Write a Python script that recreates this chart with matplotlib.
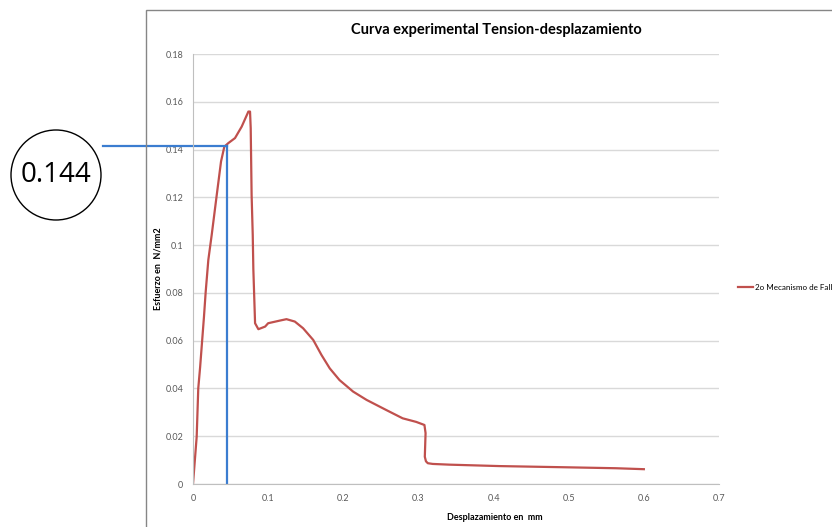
import matplotlib
matplotlib.use("Agg")
import matplotlib.pyplot as plt
from matplotlib.patches import Circle, Rectangle

# Curva (desplazamiento en mm, esfuerzo en N/mm2)
desplazamiento = [
    0.0, 0.0049, 0.007, 0.0095, 0.0146, 0.0169, 0.0204, 0.0249, 0.0316, 0.0373,
    0.0417, 0.047, 0.0559, 0.0648, 0.0737, 0.0759, 0.0768, 0.078, 0.0795, 0.0803,
    0.0826, 0.087, 0.096, 0.100, 0.1155, 0.1244, 0.1355, 0.1465, 0.160, 0.171,
    0.182, 0.195, 0.213, 0.231, 0.257, 0.279, 0.297, 0.308, 0.3095, 0.3085,
    0.310, 0.3125, 0.319, 0.341, 0.4077, 0.496, 0.5627, 0.600,
]
esfuerzo = [
    0.0, 0.0198, 0.040, 0.049, 0.070, 0.0805, 0.0938, 0.1043, 0.121, 0.135,
    0.1412, 0.1427, 0.1448, 0.1496, 0.1559, 0.1559, 0.149, 0.121, 0.1043, 0.090,
    0.0673, 0.0648, 0.0659, 0.0673, 0.0684, 0.069, 0.068, 0.0652, 0.0603, 0.054,
    0.0484, 0.0435, 0.0387, 0.0352, 0.031, 0.0275, 0.026, 0.0247, 0.0213, 0.0114,
    0.0095, 0.0087, 0.0084, 0.0081, 0.0075, 0.0070, 0.0066, 0.0062,
]
serie = "2o Mecanismo de Fall"

# marca de lectura
x_marca = 0.0449
y_marca = 0.1413
x_inicio_marca = -0.12
texto_marca = "0.144"

x_ticks = [0, 0.1, 0.2, 0.3, 0.4, 0.5, 0.6, 0.7]
x_ticklabels = ["0", "0.1", "0.2", "0.3", "0.4", "0.5", "0.6", "0.7"]
y_ticks = [0, 0.02, 0.04, 0.06, 0.08, 0.1, 0.12, 0.14, 0.16, 0.18]
y_ticklabels = ["0", "0.02", "0.04", "0.06", "0.08", "0.1", "0.12", "0.14", "0.16", "0.18"]

plt.rcParams["font.family"] = ["Lato", "DejaVu Sans"]

W, H = 832, 527
fig = plt.figure(figsize=(W / 100, H / 100), dpi=100)
ax = fig.add_axes([193 / W, 1 - 484 / H, (719 - 193) / W, (484 - 54) / H])

# borde del area del grafico
fig.patches.append(Rectangle((146 / W, -0.2), 1.0, 1 - 10 / H + 0.2,
                             transform=fig.transFigure, fill=False,
                             edgecolor="#868686", linewidth=1.0))

ax.plot(desplazamiento, esfuerzo, color="#C0504D", linewidth=1.6, label=serie,
        solid_joinstyle="round")
ax.plot([x_marca, x_marca], [0, y_marca], color="#3B7DD0", linewidth=1.6)
ax.plot([x_inicio_marca, x_marca], [y_marca, y_marca], color="#3B7DD0",
        linewidth=1.6, clip_on=False)

ax.set_xlim(0, 0.7)
ax.set_ylim(0, 0.18)
ax.set_xticks(x_ticks)
ax.set_xticklabels(x_ticklabels)
ax.set_yticks(y_ticks)
ax.set_yticklabels(y_ticklabels)
ax.tick_params(length=0, labelsize=6.5, labelcolor="#595959", pad=7)
ax.yaxis.grid(True, color="#D9D9D9", linewidth=1.0)
ax.set_axisbelow(True)
for s in ["top", "right"]:
    ax.spines[s].set_visible(False)
for s in ["left", "bottom"]:
    ax.spines[s].set_color("#BFBFBF")

ax.set_ylabel("Esfuerzo en  N/mm2", fontsize=6.5, fontweight="bold", labelpad=2)
fig.text(495 / W, 1 - 518 / H, "Desplazamiento en  mm", fontsize=6.5,
         fontweight="bold", ha="center", va="center")
fig.text(496 / W, 1 - 30 / H, "Curva experimental Tension-desplazamiento",
         fontsize=10.5, fontweight="bold", ha="center", va="center")

ax.legend(loc="center left", bbox_to_anchor=(738 / W, 1 - 287 / H),
          bbox_transform=fig.transFigure, frameon=False, fontsize=5.8,
          handlelength=1.9, handletextpad=0.2, borderaxespad=0, borderpad=0)

# circulo con el valor leido (en pulgadas para que sea redondo)
fig.patches.append(Circle((0.56, (H - 175) / 100), 0.45, transform=fig.dpi_scale_trans,
                          fill=False, edgecolor="black", linewidth=1.0))
fig.text(56 / W, 1 - 175 / H, texto_marca, fontsize=20, ha="center", va="center",
         family=["Open Sans", "DejaVu Sans"])

fig.savefig("out.png", dpi=100)
